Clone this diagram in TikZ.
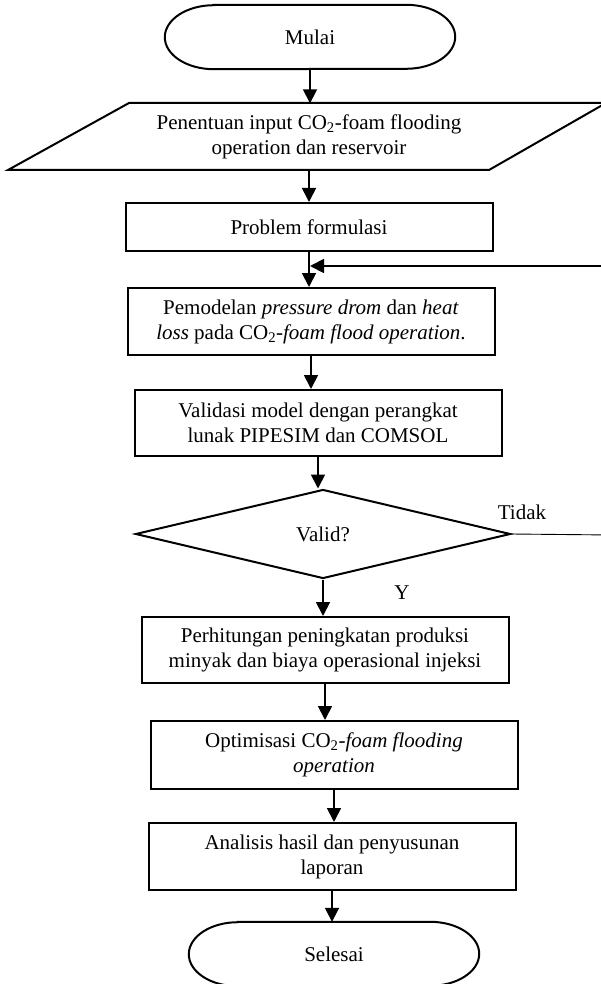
\documentclass[tikz,border=0pt]{standalone}
\usepackage{fontspec}
\setmainfont{Liberation Serif}
\usetikzlibrary{shapes.geometric,arrows.meta}

\begin{document}
\begin{tikzpicture}[x=1pt,y=-1pt,
    font=\fontsize{21}{25}\selectfont,
    box/.style={draw,line width=2pt,minimum width=367pt,minimum height=67pt,align=center,inner sep=2pt},
    term/.style={minimum width=290pt,minimum height=64pt},
    cond/.style={diamond,draw,line width=2pt,minimum width=375pt,minimum height=89pt,inner sep=0pt},
    arr/.style={line width=1.8pt,-{Triangle[length=14pt,width=14pt]}}]
    \useasboundingbox (0,0) rectangle (601,984);
    \clip (0,0) rectangle (601,984);

    \node[term] at (310,37)(mulai) {Mulai};
    \draw[line width=2pt] ([xshift=49pt]mulai.north west) -- ([xshift=-49pt]mulai.north east)
        arc[start angle=90,end angle=-90,x radius=49pt,y radius=32pt]
        -- ([xshift=49pt]mulai.south west)
        arc[start angle=270,end angle=90,x radius=49pt,y radius=32pt] -- cycle;

    \node[minimum height=67pt,align=center] at (309,137)(input) {Penentuan input CO\textsubscript{2}-foam flooding\\operation dan reservoir};
    \draw[line width=2pt] (129,103) -- (606,103) -- (489,170) -- (8,170) -- cycle;

    \node[box,minimum height=48pt] at (309,227)(prob) {Problem formulasi};
    \node[box] at (311,321.5)(model) {Pemodelan \textit{pressure drom} dan \textit{heat}\\\textit{loss} pada CO\textsubscript{2}-\textit{foam flood operation}.};
    \node[box,minimum height=66pt] at (318,423)(valid) {Validasi model dengan perangkat\\lunak PIPESIM dan COMSOL};
    \node[cond] at (323,534)(cek) {Valid?};
    \node[box,minimum height=66pt] at (325,650)(hitung) {Perhitungan peningkatan produksi\\minyak dan biaya operasional injeksi};
    \node[box,minimum height=68pt] at (334,755)(optim) {Optimisasi CO\textsubscript{2}-\textit{foam flooding}\\\textit{operation}};
    \node[box] at (332,856.5)(analisis) {Analisis hasil dan penyusunan\\laporan};

    \node[term] at (334,954)(selesai) {Selesai};
    \draw[line width=2pt] ([xshift=49pt]selesai.north west) -- ([xshift=-49pt]selesai.north east)
        arc[start angle=90,end angle=-90,x radius=49pt,y radius=32pt]
        -- ([xshift=49pt]selesai.south west)
        arc[start angle=270,end angle=90,x radius=49pt,y radius=32pt] -- cycle;

    \node at (522,512)(tidak) {Tidak};
    \node at (402,593)(ya) {Y};

    \draw[arr] (mulai.south) -- (mulai.south |- input.north);
    \draw[arr] (input.south) -- (input.south |- prob.north);
    \draw[arr] (prob.south) -- (prob.south |- model.north);
    \draw[arr] (model.south) -- (model.south |- valid.north);
    \draw[arr] (valid.south) -- (valid.south |- cek.north);
    \draw[arr] (cek.south) -- (cek.south |- hitung.north);
    \draw[arr] (hitung.south) -- (hitung.south |- optim.north);
    \draw[arr] (optim.south) -- (optim.south |- analisis.north);
    \draw[arr] (analisis.south) -- (analisis.south |- selesai.north);

    % jalur kembali (Tidak)
    \coordinate (kanan) at (612,266);
    \coordinate (balik) at (310,266);
    \draw[line width=.9pt] (cek.east) -- (612,535) -- (kanan);
    \draw[arr] (kanan) -- (balik);
\end{tikzpicture}
\end{document}
